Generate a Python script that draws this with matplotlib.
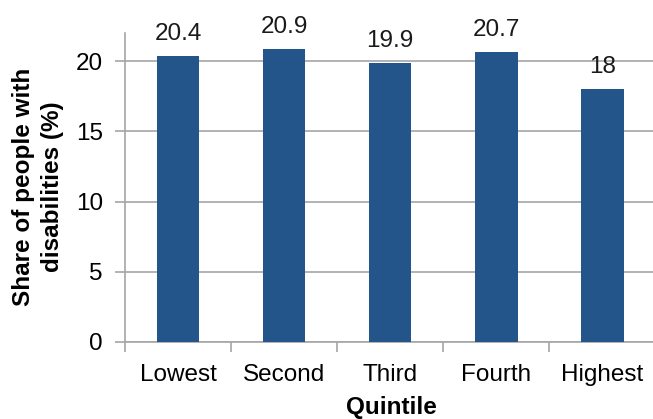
import matplotlib.pyplot as plt

# share of people with disabilities by income quintile
quintiles = ['Lowest', 'Second', 'Third', 'Fourth', 'Highest']
share = [20.4, 20.9, 19.9, 20.7, 18]

plt.rcParams['font.family'] = ['Liberation Sans', 'DejaVu Sans']

W, H = 653, 419
fig = plt.figure(figsize=(W / 100, H / 100), dpi=100)
ax = fig.add_axes([125 / W, (H - 341.7) / H, 530.5 / W, 308.4 / H])

x = range(len(quintiles))
ax.bar(x, share, width=0.4, color='#24558A', zorder=3)

for xi, v in zip(x, share):
    ax.annotate(f'{v:g}', (xi, v), xytext=(0, 11.5), textcoords='offset points',
                ha='center', va='baseline', fontsize=17.5, color='#1a1a1a')

ax.set_xlim(-0.5, len(quintiles) - 0.5)
ax.set_ylim(0, 22)
ax.set_yticks([0, 5, 10, 15, 20])
ax.yaxis.grid(True, color='#a6a6a6', linewidth=1.2, zorder=0)

# category boundaries carry the x tick marks
ax.set_xticks([i - 0.5 for i in x])
ax.set_xticks(list(x), minor=True)
ax.set_xticklabels([])
ax.set_xticklabels(quintiles, minor=True)
ax.tick_params(axis='x', which='major', length=7, width=1.2, color='#a6a6a6')
ax.tick_params(axis='x', which='minor', length=0, pad=16, labelsize=17.5)
ax.tick_params(axis='y', length=7, width=1.2, color='#a6a6a6', pad=9, labelsize=17.5)

for s in ['top', 'right']:
    ax.spines[s].set_visible(False)
for s in ['left', 'bottom']:
    ax.spines[s].set_color('#a6a6a6')
    ax.spines[s].set_linewidth(1.2)

fig.text(38 / W, 1 - 187 / H, 'Share of people with\ndisabilities (%)', rotation=90,
         ha='center', va='center', fontsize=17.5, fontweight='bold', linespacing=1.35)
fig.text(391 / W, 1 - 414 / H, 'Quintile', ha='center', va='baseline',
         fontsize=17.5, fontweight='bold')

fig.savefig('out.png', dpi=100)
